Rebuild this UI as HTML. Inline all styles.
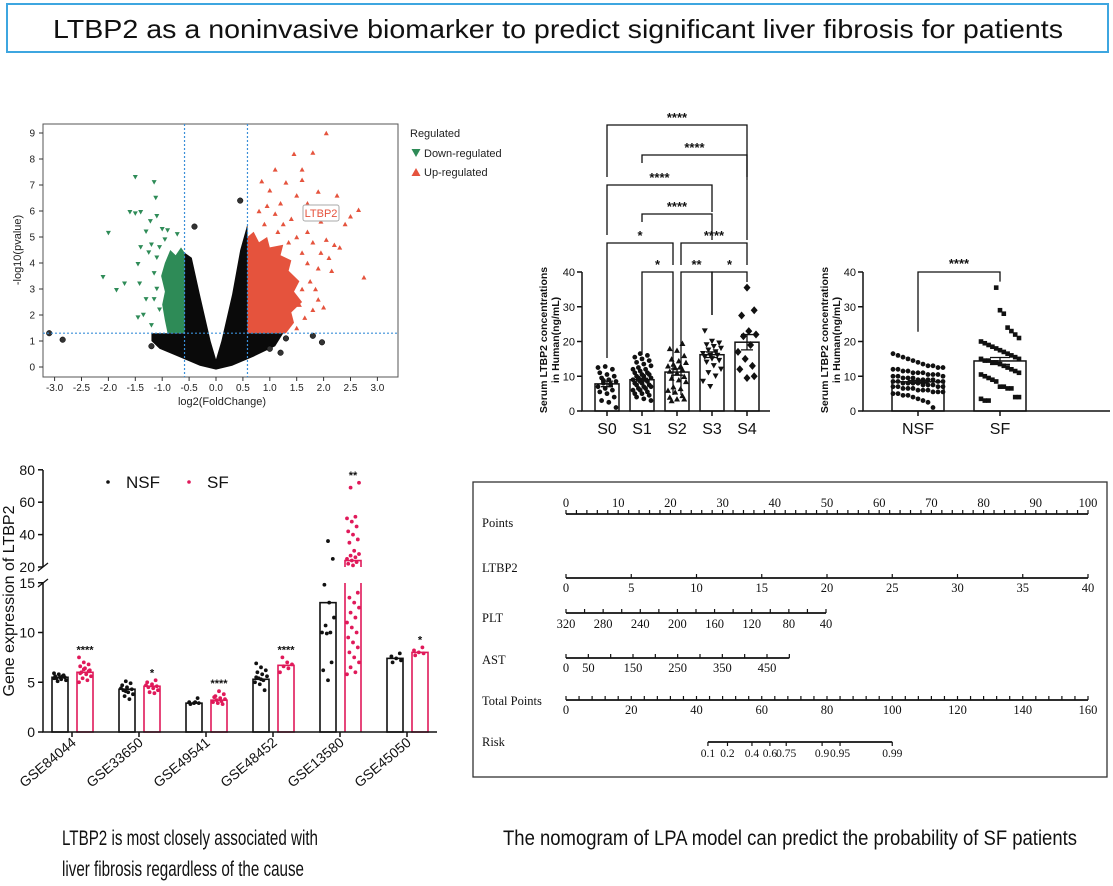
<!DOCTYPE html>
<html><head><meta charset="utf-8"><style>
html,body{margin:0;padding:0;background:#fff;}
svg{display:block;font-family:"Liberation Sans",Arial,sans-serif;}
</style></head><body>
<svg id="root" width="1113" height="886" viewBox="0 0 1113 886" xmlns="http://www.w3.org/2000/svg">
<rect x="7" y="4" width="1101" height="48" fill="#fff" stroke="#3ea6e0" stroke-width="2"/>
<text x="558" y="38" text-anchor="middle" font-size="26" textLength="1010" lengthAdjust="spacingAndGlyphs" fill="#111">LTBP2 as a noninvasive biomarker to predict significant liver fibrosis for patients</text>
<g id="volcano"></g>
<g id="stage"></g>
<g id="nsfsf"></g>
<g id="gse"></g>
<g id="nomo"></g>
<text x="62" y="845" font-size="21" textLength="256" lengthAdjust="spacingAndGlyphs" fill="#111">LTBP2 is most closely associated with</text>
<text x="62" y="876" font-size="21" textLength="242" lengthAdjust="spacingAndGlyphs" fill="#111">liver fibrosis regardless of the cause</text>
<text x="503" y="845" font-size="21" textLength="574" lengthAdjust="spacingAndGlyphs" fill="#111">The nomogram of LPA model can predict the probability of SF patients</text>
</svg>
<script>
// ---------- DATA ----------
const volcXTicks = [-3.0,-2.5,-2.0,-1.5,-1.0,-0.5,0.0,0.5,1.0,1.5,2.0,2.5,3.0];
const volcYTicks = [0,1,2,3,4,5,6,7,8,9];
const volcDownPts = [[-1.5,7.3],[-1.15,7.1],[-1.12,6.5],[-1.6,5.95],[-1.5,5.9],[-1.4,5.95],[-1.22,5.6],[-1.1,5.8],[-2.0,5.15],[-2.1,3.45],[-1.7,3.2],[-1.85,2.95],[-1.45,3.95],[-1.4,4.6],[-1.42,3.2],[-1.35,2.0],[-1.3,2.6],[-1.2,4.7],[-1.0,5.3],[-0.9,5.25],[-0.72,5.1],[-1.45,1.9],[-1.25,4.4],[-1.1,4.2],[-1.3,5.2],[-1.15,3.6],[-1.05,2.2],[-1.2,1.6],[-1.1,3.0],[-1.05,4.6],[-0.95,4.9],[-1.15,2.6]];
const volcUpPts = [[2.05,9.0],[1.8,8.25],[1.45,8.2],[1.1,7.6],[1.6,7.6],[1.6,7.2],[0.85,7.15],[1.3,7.1],[1.0,6.8],[1.9,6.75],[2.25,6.6],[2.65,6.05],[2.5,5.8],[2.4,5.5],[2.75,3.45],[2.2,4.7],[2.1,4.2],[1.9,2.6],[2.0,2.3],[1.5,1.5],[1.7,5.2],[1.8,4.8],[1.9,3.8],[1.5,6.6],[1.7,6.3],[1.2,6.3],[1.95,5.6],[2.05,4.9],[1.6,4.4],[1.75,3.3],[1.85,3.0],[1.55,2.4],[1.65,1.9],[2.15,3.7],[1.4,5.7],[1.25,5.5],[0.95,6.2],[0.8,6.0],[1.1,5.9],[2.3,4.6],[1.5,5.0],[1.35,4.8],[1.7,4.0],[1.8,2.2],[1.6,3.0],[1.95,4.4],[1.15,5.2],[0.9,5.5]];
const volcNsPts = [[-3.1,1.3],[-2.85,1.05],[1.97,0.95],[1.8,1.2],[0.45,6.4],[-0.4,5.4],[-1.2,0.8],[1.3,1.1],[1.0,0.7],[1.2,0.55]];
const stageCats = ["S0","S1","S2","S3","S4"];
const stageMeans = [7.8,9.0,11.2,16.2,19.8];
const stageSem = [0.8,0.4,0.9,0.8,2.2];
const stagePts = [
 [12.5,12.8,12,11,10.5,10,9.5,9,8.5,8,7.5,7,6.5,6,5.5,5,4,3,2.5,1,8.8,7.8],
 [16.5,16,15.5,15,14.5,14,13.5,13,12.5,12,12,11.5,11,11,10.5,10.5,10,10,9.5,9.5,9,9,8.5,8.5,8,8,7.5,7.5,7,7,6.5,6.5,6,6,5.5,5,5,4.5,4,3.5,3],
 [19.5,18,17.5,16,15,14.5,14,13.5,13,13,12.5,12,11.5,11,10,9.5,9,8.5,7,6.5,6,5.5,4.5,4,3.5,3.5,3],
 [23,20,19.5,19,18.5,18,17.5,17,16.5,16,16,15.5,15,14.5,14,13,12,11,10,8.5,7],
 [35.5,29,27.5,23,22,21.5,19,17,15,13,12,9.5,10]
];
const stageBrackets = [
 {a:0,b:4,y:125,la:177,lb:177,lab:"****"},
 {a:1,b:4,y:155,la:163,lb:240,lab:"****"},
 {a:0,b:3,y:185,la:235,lb:212,lab:"****"},
 {a:1,b:3,y:214,la:222,lb:240,lab:"****"},
 {a:0,b:2,y:243,la:358,lb:265,lab:"*"},
 {a:2,b:4,y:243,la:265,lb:265,lab:"****"},
 {a:1,b:2,y:272,la:355,lb:395,lab:"*"},
 {a:2,b:3,y:272,la:395,lb:315,lab:"**"},
 {a:3,b:4,y:272,la:315,lb:282,lab:"*"}
];
const stageTicks = [0,10,20,30,40];
const sfCats = ["NSF","SF"];
const sfMeans = [8.4,14.4];
const sfSem = [0.4,1.0];
const sfPts = [
 [16.5,16,15.5,15,14.5,14,13.5,13,13,12.5,12.5,12,12,11.5,11.5,11,11,11,10.5,10.5,10.5,10,10,10,9.5,9.5,9.5,9,9,9,9,8.5,8.5,8.5,8.5,8,8,8,8,7.5,7.5,7.5,7,7,7,7,6.5,6.5,6.5,6,6,6,5.5,5.5,5.5,5,5,4.5,4.5,4,3.5,3,2.5,1],
 [35.5,29,28,24,23,22,21,20,19.5,19,18.5,18,17.5,17,16.5,16,15.5,15,15,14.5,14.5,14,14,13.5,13,12.5,12,11.5,11,10.5,10,9.5,9,8.5,7,7,6.5,6.5,4,4,3.5,3,3]
];
const gseCats = ["GSE84044","GSE33650","GSE49541","GSE48452","GSE13580","GSE45050"];
const gseNsf = [5.5,4.3,2.9,5.3,13.0,7.4];
const gseSf = [6.0,4.6,3.2,6.7,24.0,8.0];
const gseStars = ["****","*","****","****","**","*"];
const gseNsfPts = [
 [5.9,5.8,5.7,5.6,5.5,5.5,5.4,5.3,5.2,5.1,5.6,5.4],
 [5.1,4.9,4.7,4.5,4.3,4.2,4.0,3.8,3.6,3.3,4.4,4.1],
 [3.4,3.0,2.9,2.9,2.8,3.0],
 [6.9,6.5,6.2,6.0,5.8,5.6,5.4,5.2,5.0,4.8,4.2,5.5,5.3],
 [36,25,14.8,13,11.5,10.7,10,10,9.9,7,6.2,5.2],
 [7.9,7.6,7.4,7.2,7.0]
];
const gseSfPts = [
 [7.5,7.0,6.8,6.6,6.4,6.2,6.0,5.8,5.6,5.4,5.2,5.0,6.3,6.1,5.9],
 [5.2,5.0,4.8,4.6,4.5,4.4,4.2,4.0,3.9,4.7],
 [4.1,3.8,3.6,3.4,3.3,3.2,3.1,3.0,2.9,2.8,3.5],
 [7.5,7.0,6.8,6.6,6.4,6.0],
 [72,69,51,50,48,45,42,40,37,35,30,28,27,26,25,24,23,22,21,14,13.5,13,12.5,12,11.5,11,10.5,10,9.5,9,8.5,8,7.5,7,6.5,6,5.8],
 [8.5,8.2,8.0,7.9,7.7]
];
const gseLowTicks = [0,5,10,15];
const gseHighTicks = [20,40,60,80];

// ---------- HELPERS ----------
const NS="http://www.w3.org/2000/svg";
function mk(tag, attrs, parent){const e=document.createElementNS(NS,tag);for(const k in attrs)e.setAttribute(k,attrs[k]);parent.appendChild(e);return e;}
function tx(parent,x,y,s,attrs){const e=mk('text',Object.assign({x:x,y:y},attrs||{}),parent);e.textContent=s;return e;}
function tri(parent,x,y,s,down,fill){const h=s*0.9;const p=down?`${x-s/2},${y-h/2} ${x+s/2},${y-h/2} ${x},${y+h/2}`:`${x-s/2},${y+h/2} ${x+s/2},${y+h/2} ${x},${y-h/2}`;return mk('polygon',{points:p,fill:fill},parent);}
function jit(k,n){return (((k*37)%11)-5)/5*n;}

// ---------- VOLCANO ----------
(function(){
 const g=document.getElementById('volcano');
 const vx=v=>216+v*53.8, vy=v=>367-v*26;
 const frame=mk('rect',{x:43,y:124,width:355,height:253,fill:'none',stroke:'#555','stroke-width':1},g);
 
 
 const poly=(pts,fill,name)=>{const p=mk('polygon',{points:pts.map(q=>vx(q[0])+','+vy(q[1])).join(' '),fill:fill},g);
  
  };
 poly([[-0.585,1.3],[-0.9,1.3],[-0.95,1.8],[-1.0,2.4],[-0.95,2.9],[-1.02,3.5],[-0.95,4.0],[-0.85,4.5],[-0.75,4.3],[-0.65,4.6],[-0.585,4.4]],'#2e8b57','down-regulated-cloud');
 poly([[0.585,1.3],[1.3,1.3],[1.45,1.7],[1.4,2.1],[1.6,2.5],[1.45,2.9],[1.55,3.3],[1.35,3.7],[1.4,4.1],[1.2,4.3],[1.25,4.7],[1.0,4.6],[0.95,5.0],[0.8,4.8],[0.7,5.2],[0.585,5.0]],'#e5533d','up-regulated-cloud');
 poly([[-1.2,1.3],[-0.585,1.3],[-0.585,4.4],[-0.45,4.2],[-0.3,2.8],[-0.1,1.0],[0,0.3],[0.1,1.0],[0.3,2.8],[0.45,4.5],[0.585,5.5],[0.585,1.3],[1.25,1.3],[1.1,0.8],[0.7,0.4],[0.3,0.05],[0,-0.1],[-0.3,0.05],[-0.7,0.4],[-1.05,0.7],[-1.2,1.0]],'#0a0a0a','not-significant-cloud');
 volcNsPts.forEach(p=>{const c=mk('circle',{cx:vx(p[0]),cy:vy(p[1]),r:2.8,fill:'#333',stroke:'#000','stroke-width':0.5},g);
  
  });
 volcDownPts.forEach(p=>{const t=tri(g,vx(p[0]),vy(p[1]),5,true,'#2e8b57');
  
  });
 volcUpPts.forEach(p=>{const t=tri(g,vx(p[0]),vy(p[1]),5,false,'#e5533d');
  
  });
 [[vx(-0.585),124,vx(-0.585),377],[vx(0.585),124,vx(0.585),377],[43,vy(1.3),398,vy(1.3)]].forEach(l=>{const e=mk('line',{x1:l[0],y1:l[1],x2:l[2],y2:l[3],stroke:'#3a8fd8','stroke-width':1.2,'stroke-dasharray':'2,2'},g);
  
  });
 volcYTicks.forEach(v=>{mk('line',{x1:39,y1:vy(v),x2:43,y2:vy(v),stroke:'#333'},g);
  const t=tx(g,35,vy(v)+3.5,String(v),{'font-size':10,'text-anchor':'end',fill:'#222'});
  
  });
 volcXTicks.forEach(v=>{mk('line',{x1:vx(v),y1:377,x2:vx(v),y2:381,stroke:'#333'},g);
  const t=tx(g,vx(v),391,v.toFixed(1),{'font-size':10,'text-anchor':'middle',fill:'#222'});
  
  });
 const yl=tx(g,0,0,'-log10(pvalue)',{'font-size':11,'text-anchor':'middle',transform:'translate(21,250) rotate(-90)',fill:'#222'});
 
 
 const xl=tx(g,222,405,'log2(FoldChange)',{'font-size':11,'text-anchor':'middle',fill:'#222'});
 
 
 const lb=mk('rect',{x:303,y:205,width:36,height:16,rx:2,fill:'#fff',stroke:'#aaa'},g);
 
 
 const lt=tx(g,321,217,'LTBP2',{'font-size':11,'text-anchor':'middle',fill:'#e5533d'});
 
 
 const r=tx(g,410,137,'Regulated',{'font-size':11,fill:'#222'});
 
 
 const t1=tri(g,416,153,9,true,'#2e8b57');
 
 
 const l1=tx(g,424,157,'Down-regulated',{'font-size':11,fill:'#222'});
 
 
 const t2=tri(g,416,172,9,false,'#e5533d');
 
 
 const l2=tx(g,424,176,'Up-regulated',{'font-size':11,fill:'#222'});
 
 
})();

// ---------- STAGE CHART ----------
(function(){
 const g=document.getElementById('stage');
 const by=v=>411-v*3.475, bx=i=>607+i*35;
 const markers=['circle','circle','up','down','diamond'];
 stageCats.forEach((c,i)=>{
  const r=mk('rect',{x:bx(i)-12,y:by(stageMeans[i]),width:24,height:411-by(stageMeans[i]),fill:'#fff',stroke:'#111','stroke-width':1.5},g);
  
  
  stagePts[i].forEach((v,k)=>{const x=bx(i)+jit(k+i,9),y=by(v);let e;
   if(markers[i]==='circle')e=mk('circle',{cx:x,cy:y,r:2.4,fill:'#111'},g);
   else if(markers[i]==='diamond')e=mk('polygon',{points:`${x},${y-4} ${x+3.5},${y} ${x},${y+4} ${x-3.5},${y}`,fill:'#111'},g);
   else e=tri(g,x,y,6,markers[i]==='down','#111');
   
   });
  const eb=mk('path',{d:`M${bx(i)},${by(stageMeans[i]+stageSem[i])}V${by(stageMeans[i]-stageSem[i])}M${bx(i)-6},${by(stageMeans[i]+stageSem[i])}h12M${bx(i)-6},${by(stageMeans[i]-stageSem[i])}h12`,stroke:'#111','stroke-width':1.3,fill:'none'},g);
  
  
  mk('line',{x1:bx(i),y1:411,x2:bx(i),y2:416,stroke:'#111','stroke-width':1.5},g);
  const t=tx(g,bx(i),434,c,{'font-size':16,'text-anchor':'middle',fill:'#111'});
  
  
 });
 const ax=mk('path',{d:'M582,272V411H770',stroke:'#111','stroke-width':1.5,fill:'none'},g);
 
 
 stageTicks.forEach(v=>{mk('line',{x1:577,y1:by(v),x2:582,y2:by(v),stroke:'#111','stroke-width':1.5},g);
  const t=tx(g,575,by(v)+4,String(v),{'font-size':11,'text-anchor':'end',fill:'#111'});
  
  });
 stageBrackets.forEach(b=>{const xa=bx(b.a)+(b.a===2&&b.b>2?4:0),xb=bx(b.b)-(b.b===2?4:0);
  const p=mk('path',{d:`M${xa},${b.la}V${b.y}H${xb}V${b.lb}`,stroke:'#111','stroke-width':1.3,fill:'none'},g);
  
  
  const t=tx(g,(xa+xb)/2,b.y-3,b.lab,{'font-size':13,'font-weight':'bold','text-anchor':'middle',fill:'#111'});
  
  });
 const yl=mk('text',{'font-size':10.5,'font-weight':'bold','text-anchor':'middle',transform:'translate(547,340) rotate(-90)',fill:'#111'},g);
 
 
 yl.innerHTML='<tspan x="0" dy="0">Serum LTBP2 concentrations</tspan><tspan x="0" dy="12">in Human(ng/mL)</tspan>';
})();

// ---------- NSF vs SF ----------
(function(){
 const g=document.getElementById('nsfsf');
 const by=v=>411-v*3.475, bx=i=>918+i*82;
 sfCats.forEach((c,i)=>{
  const r=mk('rect',{x:bx(i)-26,y:by(sfMeans[i]),width:52,height:411-by(sfMeans[i]),fill:'#fff',stroke:'#111','stroke-width':1.5},g);
  
  
  sfPts[i].forEach((v,k)=>{const x=bx(i)+jit(k*3+i,i?19:25),y=by(v);
   const e=i?mk('rect',{x:x-2.3,y:y-2.3,width:4.6,height:4.6,fill:'#111'},g):mk('circle',{cx:x,cy:y,r:2.4,fill:'#111'},g);
   
   });
  const eb=mk('path',{d:`M${bx(i)},${by(sfMeans[i]+sfSem[i])}V${by(sfMeans[i]-sfSem[i])}M${bx(i)-10},${by(sfMeans[i]+sfSem[i])}h20M${bx(i)-10},${by(sfMeans[i]-sfSem[i])}h20`,stroke:'#111','stroke-width':1.3,fill:'none'},g);
  
  
  mk('line',{x1:bx(i),y1:411,x2:bx(i),y2:416,stroke:'#111','stroke-width':1.5},g);
  const t=tx(g,bx(i),434,c,{'font-size':16,'text-anchor':'middle',fill:'#111'});
  
  
 });
 const ax=mk('path',{d:'M863,272V411H1110',stroke:'#111','stroke-width':1.5,fill:'none'},g);
 
 
 stageTicks.forEach(v=>{mk('line',{x1:858,y1:by(v),x2:863,y2:by(v),stroke:'#111','stroke-width':1.5},g);
  const t=tx(g,856,by(v)+4,String(v),{'font-size':11,'text-anchor':'end',fill:'#111'});
  
  });
 const br=mk('path',{d:`M${bx(0)},${by(sfMeans[0])-50}V272H${bx(1)}V${by(35.5)-6}`,stroke:'#111','stroke-width':1.3,fill:'none'},g);
 
 
 const st=tx(g,959,268,'****',{'font-size':13,'font-weight':'bold','text-anchor':'middle',fill:'#111'});
 
 
 const yl=mk('text',{'font-size':10.5,'font-weight':'bold','text-anchor':'middle',transform:'translate(828,340) rotate(-90)',fill:'#111'},g);
 
 
 yl.innerHTML='<tspan x="0" dy="0">Serum LTBP2 concentrations</tspan><tspan x="0" dy="12">in Human(ng/mL)</tspan>';
})();

// ---------- GSE CHART ----------
(function(){
 const g=document.getElementById('gse');
 const PINK='#e0195a';
 const gy=v=>v<=15?732-v*9.95:567-(v-20)*1.62;
 const gx=i=>72+i*67;
 const bar=(cx,v,col,name)=>{
  let r;
  if(v<=15){r=mk('rect',{x:cx-8,y:gy(v),width:16,height:732-gy(v),fill:'#fff',stroke:col,'stroke-width':1.6},g);}
  else{r=mk('path',{d:`M${cx-8},732V583M${cx+8},732V583M${cx-8},${gy(20)}V${gy(v)}H${cx+8}V${gy(20)}`,fill:'none',stroke:col,'stroke-width':1.6},g);}
  
  
 };
 gseCats.forEach((c,i)=>{
  bar(gx(i)-12,gseNsf[i],'#111','bar-nsf-'+c.toLowerCase());
  bar(gx(i)+13,gseSf[i],PINK,'bar-sf-'+c.toLowerCase());
  gseNsfPts[i].forEach((v,k)=>{const p=mk('circle',{cx:gx(i)-12+jit(k+i,6),cy:gy(v),r:1.9,fill:'#111'},g);
   
   });
  gseSfPts[i].forEach((v,k)=>{const p=mk('circle',{cx:gx(i)+13+jit(k+2*i,6),cy:gy(v),r:1.9,fill:PINK},g);
   
   });
  const top=Math.max(...gseSfPts[i]);
  const st=tx(g,gx(i)+13,gy(top)-4,gseStars[i],{'font-size':11,'font-weight':'bold','text-anchor':'middle',fill:'#111'});
  
  
  mk('line',{x1:gx(i),y1:732,x2:gx(i),y2:737,stroke:'#111','stroke-width':1.5},g);
  const t=tx(g,0,0,c,{'font-size':14,'text-anchor':'end',transform:`translate(${gx(i)+5},${744}) rotate(-40)`,fill:'#111'});
  
  
 });
 const ax=mk('path',{d:'M43,470V567M43,583V732H437',stroke:'#111','stroke-width':1.5,fill:'none'},g);
 
 
 const brk=mk('path',{d:'M38,571L48,563M38,587L48,579',stroke:'#111','stroke-width':1.3},g);
 
 
 gseLowTicks.concat(gseHighTicks).forEach(v=>{mk('line',{x1:38,y1:gy(v),x2:43,y2:gy(v),stroke:'#111','stroke-width':1.5},g);
  const t=tx(g,35,gy(v)+5,String(v),{'font-size':14,'text-anchor':'end',fill:'#111'});
  
  });
 const yl=tx(g,0,0,'Gene expression of LTBP2',{'font-size':16,'text-anchor':'middle',transform:'translate(14,601) rotate(-90)',fill:'#111'});
 
 
 const d1=mk('circle',{cx:108,cy:482,r:1.8,fill:'#111'},g);
 
 
 const l1=tx(g,126,488,'NSF',{'font-size':17,fill:'#111'});
 
 
 const d2=mk('circle',{cx:189,cy:482,r:1.8,fill:PINK},g);
 
 
 const l2=tx(g,207,488,'SF',{'font-size':17,fill:'#111'});
 
 
})();

// ---------- NOMOGRAM ----------
const nomoRows = ["Points","LTBP2","PLT","AST","Total Points","Risk"];
const pointsLabels = [0,10,20,30,40,50,60,70,80,90,100];
const ltbp2Labels = [0,5,10,15,20,25,30,35,40];
const pltLabels = [320,280,240,200,160,120,80,40];
const astLabels = [0,50,150,250,350,450];
const totalLabels = [0,20,40,60,80,100,120,140,160];
const riskLabels = ["0.1","0.2","0.4","0.6","0.75","0.9","0.95","0.99"];
const riskTotals = [43.5,49.5,57,62.5,67.5,78.5,84,100];
(function(){
 const g=document.getElementById('nomo');
 const box=mk('rect',{x:473,y:482,width:634,height:295,fill:'#fff',stroke:'#333','stroke-width':1.3},g);
 
 
 const X0=566,X1=1088;
 const pX=p=>X0+(X1-X0)*p/100;
 const tX=t=>X0+(X1-X0)*t/160;
 const F={'font-family':'"Liberation Serif",serif','font-size':12.5,fill:'#111'};
 const labY=[527,572,622,664,705,746];
 nomoRows.forEach((r,i)=>{const t=tx(g,482,labY[i],r,F);
  
  });
 const axis=(y,xa,xb,ticks,up,labels,lx,name)=>{
  const l=mk('line',{x1:xa,y1:y,x2:xb,y2:y,stroke:'#111','stroke-width':1.8},g);
  
  
  ticks.forEach(x=>mk('line',{x1:x,y1:y,x2:x,y2:up?y-4:y+4,stroke:'#111','stroke-width':1.2},g));
  labels.forEach((s,k)=>{const t=tx(g,lx[k],up?y-7:y+14,String(s),Object.assign({'text-anchor':'middle'},F));
   
   });
 };
 let tk=[];for(let p=0;p<=100;p+=2)tk.push(pX(p));
 axis(514,X0,X1,tk,true,pointsLabels,pointsLabels.map(pX),'points');
 const ltX=v=>pX(v*2.5);
 axis(578,X0,X1,ltbp2Labels.map(ltX),true,[],[],'ltbp2');
 ltbp2Labels.forEach(v=>{const t=tx(g,ltX(v),592,String(v),Object.assign({'text-anchor':'middle'},F));
  
  });
 const plX=v=>X0+(320-v)/280*(826-X0);
 tk=[];for(let v=320;v>=40;v-=20)tk.push(plX(v));
 axis(613,plX(320),plX(40),tk,true,[],[],'plt');
 pltLabels.forEach(v=>{const t=tx(g,plX(v),628,String(v),Object.assign({'text-anchor':'middle'},F));
  
  });
 const asX=v=>X0+v/450*(767-X0);
 tk=[];for(let v=0;v<=500;v+=50)tk.push(asX(v));
 axis(658,X0,asX(500),tk,true,[],[],'ast');
 astLabels.forEach(v=>{const t=tx(g,asX(v),672,String(v),Object.assign({'text-anchor':'middle'},F));
  
  });
 tk=[];for(let v=0;v<=160;v+=4)tk.push(tX(v));
 axis(700,X0,X1,tk,true,[],[],'total-points');
 totalLabels.forEach(v=>{const t=tx(g,tX(v),714,String(v),Object.assign({'text-anchor':'middle'},F));
  
  });
 axis(742,tX(riskTotals[0]),tX(riskTotals[riskTotals.length-1]),riskTotals.map(tX),false,[],[],'risk');
 riskLabels.forEach((s,k)=>{let x=tX(riskTotals[k]);
  const t=tx(g,x,757,s,Object.assign({'text-anchor':'middle'},F,{'font-size':11.5}));
  
  });
})();
</script>
</body></html>
